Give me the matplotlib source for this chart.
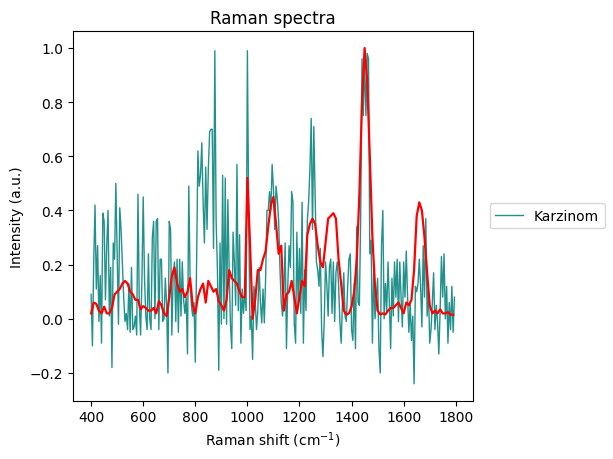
import numpy as np
import matplotlib
matplotlib.use("Agg")
import matplotlib.pyplot as plt

# eje de numeros de onda (cm^-1)
shift_karzinom = np.arange(400, 1800, 5)
shift_mean = np.arange(400, 1800, 10)

# espectro individual (Karzinom)
karzinom = [
    0.09, -0.10, 0.21, 0.42, 0.11, 0.27, -0.01, 0.16, -0.09, 0.39,
    0.36, 0.07, 0.27, 0.40, 0.01, 0.19, -0.18, 0.28, 0.22, 0.50,
    0.23, -0.02, 0.41, 0.33, 0.21, 0.08, -0.01, 0.02, -0.04, 0.13,
    -0.05, 0.19, -0.04, -0.03, 0.01, -0.06, 0.46, 0.05, -0.06, 0.14,
    0.45, 0.15, 0.01, -0.04, 0.24, 0.00, -0.04, 0.30, 0.36, 0.00,
    0.36, 0.37, -0.04, 0.22, 0.22, -0.01, 0.00, 0.15, 0.05, -0.20,
    0.36, 0.33, -0.06, 0.16, 0.21, -0.01, 0.22, -0.05, 0.22, 0.01,
    0.21, 0.07, 0.02, 0.08, -0.13, 0.49, 0.15, 0.05, 0.01, 0.06,
    -0.16, 0.21, 0.62, 0.49, 0.53, 0.65, 0.43, 0.28, 0.56, 0.33,
    0.55, 0.69, 0.70, 0.70, 0.26, 0.99, 0.36, 0.18, -0.19, 0.28,
    -0.02, 0.53, 0.00, 0.52, -0.02, 0.44, 0.18, -0.02, -0.11, 0.32,
    0.21, 0.05, 0.57, 0.03, 0.31, -0.09, 0.11, 0.02, 0.10, 0.03,
    0.99, 0.39, -0.04, 0.01, -0.15, 0.12, 0.07, -0.04, 0.03, 0.19,
    0.06, -0.015, 0.11, -0.015, 0.15, 0.40, 0.40, 0.47, 0.40, 0.57,
    0.48, 0.33, 0.49, 0.44, 0.36, 0.19, 0.06, 0.01, 0.10, 0.28,
    -0.11, 0.12, 0.27, 0.19, 0.47, 0.43, -0.02, -0.09, 0.32, 0.05,
    0.26, 0.02, 0.43, -0.09, 0.18, 0.03, 0.36, 0.43, 0.55, 0.74,
    0.33, 0.71, 0.46, 0.21, 0.18, 0.12, 0.26, -0.04, -0.14, -0.01,
    0.21, 0.13, 0.01, 0.19, 0.22, 0.02, 0.21, -0.01, 0.17, 0.21,
    0.13, -0.01, -0.09, 0.06, 0.17, 0.01, -0.01, 0.12, 0.22, 0.24,
    -0.04, -0.08, 0.13, -0.11, 0.34, 0.06, 0.05, 0.38, 0.96, 0.75,
    0.96, 0.75, 0.98, 0.96, 0.24, 0.29, -0.09, 0.18, 0.00, 0.08,
    0.15, -0.11, -0.20, 0.27, 0.40, 0.00, 0.13, 0.03, 0.21, 0.06,
    -0.11, 0.15, 0.01, 0.21, 0.08, 0.22, -0.01, 0.21, 0.08, -0.03,
    0.21, 0.08, 0.25, 0.08, -0.05, 0.06, -0.08, 0.01, -0.24, 0.12,
    0.10, 0.13, 0.22, 0.12, -0.03, 0.27, 0.08, 0.37, 0.01, 0.11,
    -0.09, -0.04, 0.06, 0.17, -0.04, 0.05, -0.01, -0.13, 0.03, 0.23,
    0.08, 0.24, 0.00, 0.12, -0.09, 0.06, -0.04, 0.12, -0.05, 0.08,
]

# espectro medio (linea roja)
mean_spec = [
    0.02, 0.06, 0.055, 0.03, 0.02, 0.045, 0.02, 0.02, 0.04, 0.09,
    0.10, 0.11, 0.13, 0.14, 0.13, 0.10, 0.09, 0.07, 0.07, 0.035,
    0.047, 0.04, 0.03, 0.03, 0.04, 0.02, 0.065, 0.05, 0.02, 0.01,
    0.08, 0.16, 0.19, 0.13, 0.10, 0.11, 0.08, 0.10, 0.15, 0.05,
    0.02, 0.08, 0.11, 0.13, 0.06, 0.14, 0.12, 0.10, 0.11, 0.065,
    0.05, 0.03, 0.07, 0.18, 0.15, 0.14, 0.13, 0.10, 0.08, 0.08,
    0.52, 0.28, 0.00, 0.07, 0.18, 0.18, 0.22, 0.25, 0.34, 0.42,
    0.45, 0.35, 0.24, 0.27, 0.03, 0.09, 0.10, 0.14, 0.08, 0.02,
    0.08, 0.14, 0.12, 0.31, 0.35, 0.37, 0.35, 0.27, 0.21, 0.19,
    0.28, 0.37, 0.38, 0.39, 0.37, 0.22, 0.13, 0.03, 0.015, 0.02,
    0.045, 0.10, 0.22, 0.46, 0.80, 1.00, 0.88, 0.60, 0.30, 0.12,
    0.03, 0.016, 0.02, 0.016, 0.03, 0.04, 0.04, 0.05, 0.06, 0.04,
    0.02, 0.06, 0.05, 0.07, 0.18, 0.38, 0.43, 0.40, 0.30, 0.17,
    0.05, 0.02, 0.03, 0.02, 0.035, 0.02, 0.02, 0.025, 0.015, 0.015,
]

fig = plt.figure(figsize=(6.13, 4.60), dpi=100)
ax = fig.add_axes([0.119, 0.127, 0.652, 0.803])

ax.plot(shift_karzinom, karzinom, color="#21918c", linewidth=1, label="Karzinom")
ax.plot(shift_mean, mean_spec, color="red", linewidth=1.6)

ax.set_title("Raman spectra")
ax.set_xlabel("Raman shift (cm$^{-1}$)")
ax.set_ylabel("Intensity (a.u.)")
ax.legend(loc="center left", bbox_to_anchor=(1.025, 0.5))

fig.savefig("out.png", dpi=100)
